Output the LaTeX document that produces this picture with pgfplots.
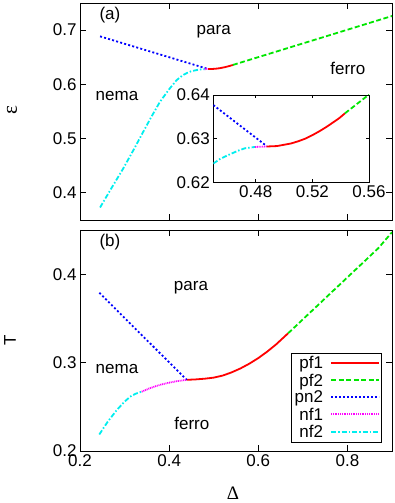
\documentclass[border=0pt]{standalone}
\usepackage{fontspec}
\setmainfont{Liberation Sans}
\newfontfamily\greekfont{Liberation Serif}
\usepackage{pgfplots}
\pgfplotsset{compat=1.18}

\definecolor{cpfa}{RGB}{255,0,0}
\definecolor{cpfb}{RGB}{0,230,0}
\definecolor{cpn}{RGB}{0,0,255}
\definecolor{cnfa}{RGB}{255,0,255}
\definecolor{cnfb}{RGB}{0,238,238}

\tikzset{
  pf1/.style={draw=cpfa, line width=1.8pt, solid},
  pf2/.style={draw=cpfb, line width=1.8pt, dash pattern=on 5pt off 2.5pt},
  pn2/.style={draw=cpn, line width=1.8pt, dash pattern=on 2pt off 2.2pt},
  nf1/.style={draw=cnfa, line width=1.8pt, dash pattern=on 1pt off 0.8pt},
  nf2/.style={draw=cnfb, line width=1.8pt, dash pattern=on 5pt off 2pt on 1.5pt off 2pt},
}

\pgfplotsset{
  every axis/.append style={
    scale only axis,
    font=\fontsize{17}{20}\selectfont,
    /pgf/number format/assume math mode=true,
    /pgf/number format/fixed,
    tick align=inside,
    major tick length=6pt,
    axis line style={line width=0.9pt},
    every tick/.style={line width=0.9pt, black},
    minor tick num=0,
  },
}

\begin{document}
\begin{tikzpicture}
\path[use as bounding box] (0pt,0pt) rectangle (395pt,503pt);

% panel (a)
\begin{axis}[
  at={(80pt,283pt)}, anchor=south west,
  width=312pt, height=217pt,
  xmin=0.2, xmax=0.9, ymin=0.35, ymax=0.75,
  xtick={0.2,0.4,0.6,0.8}, xticklabels={},
  ytick={0.4,0.5,0.6,0.7},
  yticklabel style={/pgf/number format/precision=1},
  ylabel={\greekfont\fontsize{21}{21}\selectfont ε},
  ylabel style={at={(axis description cs:-0.218,0.507)}, anchor=center},
]
\addplot[pn2] coordinates {(0.245,0.6885) (0.4877,0.6283)};
\addplot[nf2] coordinates {
  (0.245,0.373) (0.27,0.408) (0.2972,0.4453) (0.32,0.479) (0.342,0.5128)
  (0.36,0.540) (0.3795,0.568) (0.40,0.591) (0.417,0.608) (0.43,0.6165)
  (0.44,0.621) (0.45,0.6243) (0.463,0.6266) (0.4724,0.6278) (0.4795,0.6281)};
\addplot[nf1] coordinates {(0.4795,0.6281) (0.4877,0.6282)};
\addplot[pf1] coordinates {
  (0.4877,0.6282) (0.495,0.6283) (0.505,0.6289) (0.515,0.6300)
  (0.525,0.6317) (0.535,0.6338) (0.543,0.6358)};
\addplot[pf2] coordinates {(0.543,0.6358) (0.9,0.726)};
\node[anchor=west] at (axis cs:0.236,0.728) {(a)};
\node at (axis cs:0.50,0.698) {para};
\node at (axis cs:0.801,0.630) {ferro};
\node at (axis cs:0.283,0.5786) {nema};
\end{axis}

% inset
\begin{axis}[
  at={(213.3pt,320.7pt)}, anchor=south west,
  width=155.7pt, height=87.3pt,
  axis background/.style={fill=white},
  xmin=0.45, xmax=0.56, ymin=0.62, ymax=0.64,
  xtick={0.48,0.52,0.56}, ytick={0.62,0.63,0.64},
  major tick length=3.5pt,
  xticklabel style={/pgf/number format/precision=2, /pgf/number format/fixed zerofill},
  yticklabel style={/pgf/number format/precision=2, /pgf/number format/fixed zerofill},
]
\addplot[pn2] coordinates {(0.45,0.6377) (0.4877,0.6283)};
\addplot[nf2] coordinates {
  (0.45,0.6243) (0.455,0.6254) (0.463,0.6266) (0.468,0.6273) (0.4724,0.6278) (0.4795,0.6281)};
\addplot[nf1] coordinates {(0.4795,0.6281) (0.4877,0.6282)};
\addplot[pf1] coordinates {
  (0.4877,0.6282) (0.495,0.6283) (0.500,0.6286) (0.505,0.6289) (0.510,0.6294) (0.515,0.6300)
  (0.520,0.6308) (0.525,0.6317) (0.530,0.6327) (0.535,0.6338) (0.539,0.6347) (0.543,0.6358)};
\addplot[pf2] coordinates {(0.543,0.6358) (0.56,0.6401)};
\end{axis}

% panel (b)
\begin{axis}[
  at={(80pt,52pt)}, anchor=south west,
  width=312pt, height=221pt,
  xmin=0.2, xmax=0.9, ymin=0.2, ymax=0.45,
  xtick={0.2,0.4,0.6,0.8},
  ytick={0.2,0.3,0.4},
  xticklabel style={/pgf/number format/precision=1},
  yticklabel style={/pgf/number format/precision=1},
  xlabel={\greekfont\fontsize{19}{19}\selectfont Δ},
  xlabel style={at={(axis description cs:0.49,-0.19)}, anchor=center},
  ylabel={T},
  ylabel style={at={(axis description cs:-0.224,0.502)}, anchor=center},
  legend style={at={(rel axis cs:0.967,0.0376)}, anchor=south east,
    font=\fontsize{17}{17}\selectfont,
    inner sep=1.5pt, row sep=-0.5pt, column sep=5pt},
  legend cell align=right,
  legend plot pos=right,
  legend image code/.code={\draw[#1] (0pt,0.4pt) -- (48pt,0.4pt);},
]
\addlegendimage{pf1}
\addlegendentry{pf1}
\addlegendimage{pf2}
\addlegendentry{pf2}
\addlegendimage{draw=cpn, line width=2pt, dash pattern=on 2pt off 2pt}
\addlegendentry{pn2}
\addlegendimage{nf1}
\addlegendentry{nf1}
\addlegendimage{nf2}
\addlegendentry{nf2}
\addplot[pf1, forget plot] coordinates {
  (0.4394,0.2805) (0.46,0.2810) (0.48,0.2818) (0.50,0.2830) (0.52,0.2853)
  (0.54,0.2889) (0.56,0.2934) (0.58,0.2988) (0.60,0.3051) (0.62,0.3124)
  (0.64,0.3206) (0.667,0.3332)};
\addplot[pf2, forget plot] coordinates {(0.667,0.3332) (0.8693,0.4294) (0.9,0.4475)};
\addplot[pn2, forget plot] coordinates {(0.2433,0.379) (0.4394,0.2805)};
\addplot[nf1, forget plot] coordinates {
  (0.3384,0.2671) (0.355,0.2707) (0.372,0.2737) (0.387,0.2758) (0.4019,0.2775)
  (0.42,0.2792) (0.4394,0.2805)};
\addplot[nf2, forget plot] coordinates {
  (0.2433,0.2187) (0.262,0.2330) (0.2823,0.2462) (0.298,0.2548) (0.3122,0.2614)
  (0.325,0.2648) (0.3384,0.2671)};
\node[anchor=west] at (axis cs:0.236,0.4364) {(b)};
\node at (axis cs:0.449,0.3847) {para};
\node at (axis cs:0.283,0.2928) {nema};
\node at (axis cs:0.451,0.2317) {ferro};
\end{axis}
\end{tikzpicture}
\end{document}
